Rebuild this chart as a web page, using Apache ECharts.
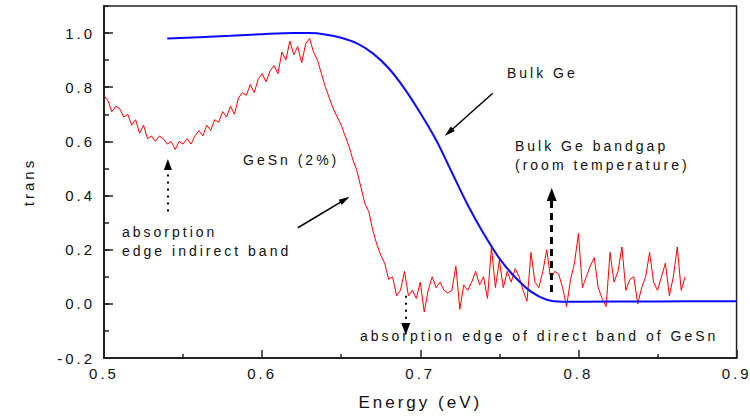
<!DOCTYPE html>
<html>

<head>
    <meta charset="utf-8">
    <script src="https://cdn.jsdelivr.net/npm/echarts@6.0.0/dist/echarts.min.js"></script>
    <style>
        html, body { margin: 0; padding: 0; background: #fff; }
        /* Origin-style wide lettering */
        #container text { letter-spacing: 3px; }
    </style>
</head>

<body>
    <div id="container" style="width:750px;height:419px;"></div>
    <script type="text/javascript">
        // GeSn (2%) transmission, red noisy curve
        var gesnEnergy = [
            0.5, 0.5025, 0.505, 0.5075, 0.51, 0.5125, 0.515, 0.5175, 0.52, 0.5225,
            0.525, 0.5275, 0.53, 0.5325, 0.535, 0.5375, 0.54, 0.5425, 0.545, 0.5475,
            0.55, 0.5525, 0.555, 0.5575, 0.56, 0.5625, 0.565, 0.5675, 0.57, 0.5725,
            0.575, 0.5775, 0.58, 0.5825, 0.585, 0.5875, 0.59, 0.5925, 0.595, 0.5975,
            0.6, 0.6025, 0.605, 0.6075, 0.61, 0.6125, 0.615, 0.6175, 0.62, 0.6225,
            0.625, 0.6275, 0.63, 0.6325, 0.635, 0.6375, 0.64, 0.6425, 0.645, 0.6475,
            0.65, 0.6525, 0.655, 0.6575, 0.66, 0.6625, 0.665, 0.6675, 0.67, 0.6725,
            0.675, 0.6775, 0.68, 0.6825, 0.685, 0.6875, 0.69, 0.6925, 0.695, 0.6975,
            0.7, 0.7025, 0.705, 0.7075, 0.71, 0.7125, 0.715, 0.7175, 0.72, 0.7225,
            0.725, 0.7275, 0.73, 0.7325, 0.735, 0.7375, 0.74, 0.7425, 0.745, 0.7475,
            0.75, 0.7525, 0.755, 0.7575, 0.76, 0.7625, 0.765, 0.7675, 0.77, 0.7725,
            0.775, 0.7775, 0.78, 0.7825, 0.785, 0.7875, 0.79, 0.7925, 0.795, 0.7975,
            0.8, 0.8025, 0.805, 0.8075, 0.81, 0.8125, 0.815, 0.8175, 0.82, 0.8225,
            0.825, 0.8275, 0.83, 0.8325, 0.835, 0.8375, 0.84, 0.8425, 0.845, 0.8475,
            0.85, 0.8525, 0.855, 0.8575, 0.86, 0.8625, 0.865, 0.8675
        ];
        var gesnTrans = [
            0.77, 0.75, 0.71, 0.73, 0.72, 0.69, 0.70, 0.66, 0.68, 0.63,
            0.66, 0.61, 0.62, 0.60, 0.62, 0.61, 0.59, 0.60, 0.57, 0.60,
            0.59, 0.61, 0.59, 0.62, 0.64, 0.62, 0.66, 0.64, 0.68, 0.67,
            0.71, 0.69, 0.73, 0.70, 0.76, 0.78, 0.77, 0.81, 0.78, 0.83,
            0.85, 0.82, 0.86, 0.88, 0.85, 0.93, 0.90, 0.97, 0.92, 0.95,
            0.89, 0.96, 0.98, 0.93, 0.90, 0.85, 0.80, 0.76, 0.72, 0.69,
            0.66, 0.62, 0.58, 0.53, 0.49, 0.43, 0.37, 0.34, 0.27, 0.22,
            0.18, 0.15, 0.09, 0.10, 0.03, 0.05, 0.12, 0.03, 0.05, 0.02,
            0.08, -0.03, 0.05, 0.10, 0.06, 0.08, 0.05, 0.04, 0.05, 0.14,
            -0.02, 0.07, 0.05, 0.08, 0.12, 0.07, 0.10, 0.02, 0.21, 0.06,
            0.16, 0.06, 0.12, 0.08, 0.13, 0.10, 0.05, 0.01, 0.19, 0.08,
            0.06, 0.12, 0.20, 0.09, 0.12, 0.11, 0.06, -0.01, 0.09, 0.15,
            0.26, 0.06, 0.10, 0.14, 0.17, 0.06, 0.02, -0.01, 0.19, 0.08,
            0.12, 0.21, 0.05, 0.09, 0.10, 0.00, 0.06, 0.10, 0.19, 0.08,
            0.05, 0.10, 0.15, 0.03, 0.10, 0.21, 0.05, 0.10
        ];
        // Bulk Ge, smooth blue curve
        var geEnergy = [0.54, 0.56, 0.58, 0.60, 0.62, 0.63, 0.64, 0.65, 0.66, 0.67,
            0.68, 0.69, 0.70, 0.71, 0.72, 0.73, 0.74, 0.75, 0.76, 0.77,
            0.78, 0.79, 0.80, 0.85, 0.90];
        var geTrans = [0.980, 0.985, 0.990, 0.996, 1.000, 1.000, 0.995, 0.983, 0.962, 0.925,
            0.870, 0.795, 0.705, 0.605, 0.485, 0.365, 0.260, 0.168, 0.098, 0.045,
            0.015, 0.008, 0.008, 0.009, 0.010];

        var xTicks = [0.5, 0.6, 0.7, 0.8, 0.9];
        var yTicks = [-0.2, 0.0, 0.2, 0.4, 0.6, 0.8, 1.0];

        function pairs(xs, ys) {
            var out = [];
            for (var i = 0; i < xs.length; i++) {
                out.push([xs[i], ys[i]]);
            }
            return out;
        }

        var textColor = '#111';
        var fontFamily = '"Liberation Sans", Arial, sans-serif';

        function note(x, y, str) {
            return {
                type: 'text',
                x: x,
                y: y,
                silent: true,
                style: {
                    text: str,
                    fill: textColor,
                    font: '14px ' + fontFamily,
                    verticalAlign: 'middle'
                }
            };
        }

        function arrow(from, to, style, head) {
            return [
                { coord: from, symbol: 'none', lineStyle: style },
                { coord: to, symbol: 'triangle', symbolSize: head }
            ];
        }

        var dom = document.getElementById('container');
        var myChart = echarts.init(dom, null, { renderer: 'svg' });

        var option = {
            animation: false,
            backgroundColor: '#fff',
            grid: {
                left: 104,
                right: 13,
                top: 6,
                bottom: 61,
                show: true,
                borderColor: '#222',
                borderWidth: 1.5
            },
            xAxis: {
                type: 'value',
                min: 0.5,
                max: 0.9,
                interval: 0.1,
                name: 'Energy (eV)',
                nameLocation: 'middle',
                nameGap: 36,
                nameTextStyle: { color: textColor, fontSize: 17, fontFamily: fontFamily },
                axisLine: { onZero: false, lineStyle: { color: '#222', width: 2 } },
                axisTick: { inside: true, length: 8, lineStyle: { color: '#222', width: 1.5 } },
                minorTick: { show: true, splitNumber: 2, length: 4, lineStyle: { color: '#222', width: 1.5 } },
                splitLine: { show: false },
                axisLabel: {
                    color: textColor,
                    fontSize: 15,
                    fontFamily: fontFamily,
                    margin: 8,
                    formatter: function (v) {
                        return xTicks.indexOf(Math.round(v * 10) / 10) >= 0 ? v.toFixed(1) : '';
                    }
                }
            },
            yAxis: [{
                type: 'value',
                min: -0.2,
                max: 1.1,
                interval: 0.2,
                name: 'trans',
                nameLocation: 'middle',
                nameGap: 68,
                nameTextStyle: { color: textColor, fontSize: 15, fontFamily: fontFamily },
                axisLine: { onZero: false, lineStyle: { color: '#222', width: 2 } },
                axisTick: { inside: true, length: 9, lineStyle: { color: '#222', width: 1.5 } },
                splitLine: { show: false },
                axisLabel: {
                    color: textColor,
                    fontSize: 15,
                    fontFamily: fontFamily,
                    margin: 9,
                    showMaxLabel: false,
                    formatter: function (v) {
                        return yTicks.indexOf(Math.round(v * 10) / 10) >= 0 ? v.toFixed(1) : '';
                    }
                }
            }, {
                // minor ticks on the left axis
                type: 'value',
                position: 'left',
                min: -0.2,
                max: 1.1,
                interval: 0.1,
                axisLine: { show: false, onZero: false },
                axisTick: { inside: true, length: 5, lineStyle: { color: '#222', width: 1.5 } },
                axisLabel: { show: false },
                splitLine: { show: false }
            }],
            series: [{
                name: 'GeSn (2%)',
                type: 'line',
                data: pairs(gesnEnergy, gesnTrans),
                showSymbol: false,
                lineStyle: { color: '#ff0000', width: 1 },
                itemStyle: { color: '#ff0000' },
                z: 2
            }, {
                name: 'Bulk Ge',
                type: 'line',
                data: pairs(geEnergy, geTrans),
                smooth: 0.35,
                showSymbol: false,
                lineStyle: { color: '#0a0aff', width: 2 },
                itemStyle: { color: '#0a0aff' },
                z: 3,
                markLine: {
                    silent: true,
                    animation: false,
                    label: { show: false },
                    emphasis: { disabled: true },
                    itemStyle: { color: '#000' },
                    data: [
                        // Bulk Ge pointer
                        arrow([0.7458, 0.778], [0.7180, 0.633], { color: '#000', width: 1.5, type: 'solid' }, [6, 11]),
                        // GeSn pointer
                        arrow([0.6226, 0.281], [0.6523, 0.385], { color: '#000', width: 1.5, type: 'solid' }, [6, 11]),
                        // bulk Ge bandgap
                        arrow([0.7831, 0.044], [0.7831, 0.404], { color: '#000', width: 3, type: [7, 5] }, [10, 13]),
                        // indirect band edge
                        arrow([0.5404, 0.341], [0.5404, 0.515], { color: '#000', width: 2, type: [2, 5] }, [8, 11]),
                        // direct band edge
                        arrow([0.6908, 0.030], [0.6908, -0.093], { color: '#000', width: 2, type: [2, 5] }, [9, 12])
                    ]
                }
            }],
            graphic: [
                note(507, 73, 'Bulk Ge'),
                note(515, 146, 'Bulk Ge bandgap'),
                note(515, 165, '(room temperature)'),
                note(243, 160, 'GeSn (2%)'),
                note(122, 232, 'absorption'),
                note(122, 251, 'edge indirect band'),
                note(360, 336, 'absorption edge of direct band of GeSn')
            ]
        };

        myChart.setOption(option);
    </script>
</body>

</html>
